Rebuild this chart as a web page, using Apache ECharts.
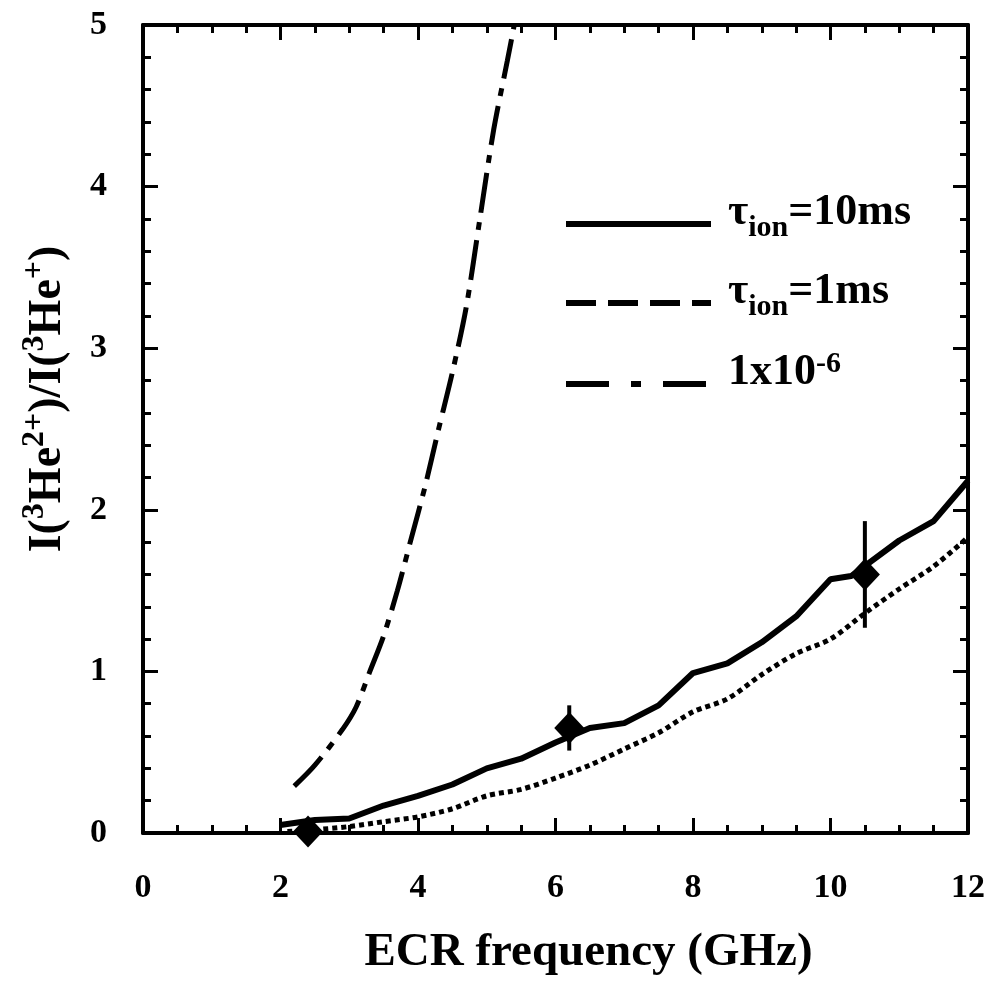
<!DOCTYPE html>
<html>
<head>
<meta charset="utf-8">
<script src="https://cdn.jsdelivr.net/npm/echarts@6/dist/echarts.min.js"></script>
<style>
  html, body { margin: 0; padding: 0; background: #fff; }
  #main { width: 996px; height: 981px; }
</style>
</head>
<body>
<div id="main"></div>
<script>
// tau_ion = 10 ms (solid)
var tau10X = [2.0, 2.5, 3.0, 3.5, 4.0, 4.5, 5.0, 5.5, 6.0, 6.5, 7.0, 7.5, 8.0, 8.5, 9.0, 9.5, 10.0, 10.3, 11.0, 11.5, 12.0];
var tau10Y = [0.05, 0.08, 0.09, 0.17, 0.23, 0.30, 0.40, 0.46, 0.56, 0.65, 0.68, 0.79, 0.99, 1.05, 1.18, 1.34, 1.57, 1.59, 1.81, 1.93, 2.18];
// tau_ion = 1 ms (dotted)
var tau1X = [2.1, 2.5, 3.0, 3.5, 4.0, 4.5, 5.0, 5.5, 6.0, 6.5, 7.0, 7.5, 8.0, 8.5, 9.0, 9.5, 10.0, 10.5, 11.0, 11.5, 12.0];
var tau1Y = [0.01, 0.02, 0.04, 0.07, 0.10, 0.15, 0.23, 0.27, 0.34, 0.42, 0.52, 0.62, 0.75, 0.83, 0.98, 1.11, 1.20, 1.36, 1.51, 1.65, 1.83];
// 1x10^-6 (dash-dot)
var hypX = [2.2, 2.5, 2.9, 3.1, 3.3, 3.5, 3.7, 3.9, 4.1, 4.3, 4.5, 4.7, 4.9, 5.1, 5.3, 5.4];
var hypY = [0.29, 0.42, 0.64, 0.78, 1.00, 1.22, 1.50, 1.82, 2.14, 2.50, 2.85, 3.25, 3.80, 4.35, 4.78, 5.00];
// measured points with error bars
var measX = [2.4, 6.2, 10.5];
var measY = [0.01, 0.65, 1.60];
var measLow = [0.0, 0.51, 1.27];
var measHigh = [0.03, 0.79, 1.93];

var xTicks = [0, 2, 4, 6, 8, 10, 12];
var yTicks = [0, 1, 2, 3, 4, 5];

function pairs(xs, ys) {
  return xs.map(function (x, i) { return [x, ys[i]]; });
}

var FONT = '"Liberation Serif", "Times New Roman", serif';

var myChart = echarts.init(document.getElementById('main'), null, { renderer: 'canvas' });

function xAxisCfg(pos, labels) {
  return {
    type: 'value', position: pos,
    min: xTicks[0], max: xTicks[xTicks.length - 1], interval: 2,
    axisLine: { show: true, onZero: false, lineStyle: { color: '#000', width: 4 } },
    axisTick: { show: true, inside: true, length: 15, lineStyle: { color: '#000', width: 3 } },
    minorTick: { show: true, splitNumber: 4, length: 8, lineStyle: { color: '#000', width: 3 } },
    splitLine: { show: false },
    axisLabel: { show: labels, margin: 38, color: '#000', fontFamily: FONT, fontWeight: 'bold', fontSize: 34 }
  };
}

function yAxisCfg(pos, labels) {
  return {
    type: 'value', position: pos,
    min: yTicks[0], max: yTicks[yTicks.length - 1], interval: 1,
    axisLine: { show: true, onZero: false, lineStyle: { color: '#000', width: 4 } },
    axisTick: { show: true, inside: true, length: 15, lineStyle: { color: '#000', width: 3 } },
    minorTick: { show: true, splitNumber: 5, length: 8, lineStyle: { color: '#000', width: 3 } },
    splitLine: { show: false },
    axisLabel: { show: labels, margin: 36, color: '#000', fontFamily: FONT, fontWeight: 'bold', fontSize: 34 }
  };
}

var xBottom = xAxisCfg('bottom', true);
xBottom.name = 'ECR frequency (GHz)';
xBottom.nameLocation = 'middle';
xBottom.nameGap = 96;
xBottom.nameTextStyle = { color: '#000', fontFamily: FONT, fontWeight: 'bold', fontSize: 47, padding: [0, 0, 0, 66] };

var yLeft = yAxisCfg('left', true);
yLeft.name = '{b|I(}{s|3}{b|He}{s|2+}{b|)/I(}{s|3}{b|He}{s|+}{b|)}';
yLeft.nameLocation = 'middle';
yLeft.nameRotate = 90;
yLeft.nameGap = 72;
yLeft.nameTextStyle = {
  padding: [0, 0, 0, 60],
  rich: {
    b: { color: '#000', fontFamily: FONT, fontWeight: 'bold', fontSize: 46, lineHeight: 52, verticalAlign: 'bottom' },
    s: { color: '#000', fontFamily: FONT, fontWeight: 'bold', fontSize: 32, lineHeight: 52, verticalAlign: 'top' }
  }
};

var legendRich = {
  t: { color: '#000', fontFamily: FONT, fontWeight: 'bold', fontSize: 44, lineHeight: 46, verticalAlign: 'bottom' },
  sub: { color: '#000', fontFamily: FONT, fontWeight: 'bold', fontSize: 30, lineHeight: 46, verticalAlign: 'bottom', padding: [0, 0, -8, 0] },
  sup: { color: '#000', fontFamily: FONT, fontWeight: 'bold', fontSize: 30, lineHeight: 46, verticalAlign: 'top' }
};

var hideSym = { opacity: 0, color: 'rgba(0,0,0,0)', borderWidth: 0 };

option = {
  backgroundColor: '#fff',
  animation: false,
  grid: { left: 143, right: 28, top: 25, bottom: 136 },
  legend: {
    orient: 'vertical',
    left: 558, top: 186,
    itemWidth: 145, itemHeight: 20, itemGap: 27,
    data: [
      { name: 'tau10', lineStyle: { type: 'solid', width: 6 }, itemStyle: hideSym },
      { name: 'tau1', lineStyle: { type: [30, 12], width: 6 }, itemStyle: hideSym },
      { name: 'hyp', lineStyle: { type: [43, 22, 10, 22], width: 6 }, itemStyle: hideSym }
    ],
    formatter: function (name) {
      if (name === 'tau10') return '{t|\u03c4}{sub|ion}{t|=10ms}';
      if (name === 'tau1') return '{t|\u03c4}{sub|ion}{t|=1ms}';
      return '{t|1x10}{sup|-6}';
    },
    textStyle: { rich: legendRich, height: 46, padding: [0, 0, 24, 12] }
  },
  xAxis: [xBottom, xAxisCfg('top', false)],
  yAxis: [yLeft, yAxisCfg('right', false)],
  series: [
    {
      name: 'tau10', type: 'line', data: pairs(tau10X, tau10Y),
      showSymbol: false, symbol: 'none',
      lineStyle: { color: '#000', width: 6, type: 'solid' },
      itemStyle: { color: '#000' }
    },
    {
      name: 'tau1', type: 'line', data: pairs(tau1X, tau1Y),
      showSymbol: false, symbol: 'none', smooth: 0.3,
      lineStyle: { color: '#000', width: 5, type: [5, 4] },
      itemStyle: { color: '#000' }
    },
    {
      name: 'hyp', type: 'line', data: pairs(hypX, hypY),
      showSymbol: false, symbol: 'none', smooth: 0.3,
      lineStyle: { color: '#000', width: 5, type: [40, 10, 8, 10] },
      itemStyle: { color: '#000' }
    },
    {
      name: 'errbars', type: 'custom',
      data: measX.map(function (x, i) { return [x, measLow[i], measHigh[i]]; }),
      renderItem: function (params, api) {
        var lo = api.coord([api.value(0), api.value(1)]);
        var hi = api.coord([api.value(0), api.value(2)]);
        return {
          type: 'line',
          shape: { x1: lo[0], y1: lo[1], x2: hi[0], y2: hi[1] },
          style: { stroke: '#000', lineWidth: 4 }
        };
      },
      z: 5
    },
    {
      name: 'meas', type: 'scatter', data: pairs(measX, measY),
      symbol: 'diamond', symbolSize: [30, 32],
      itemStyle: { color: '#000', opacity: 1 },
      z: 6
    }
  ]
};

myChart.setOption(option);
</script>
</body>
</html>
